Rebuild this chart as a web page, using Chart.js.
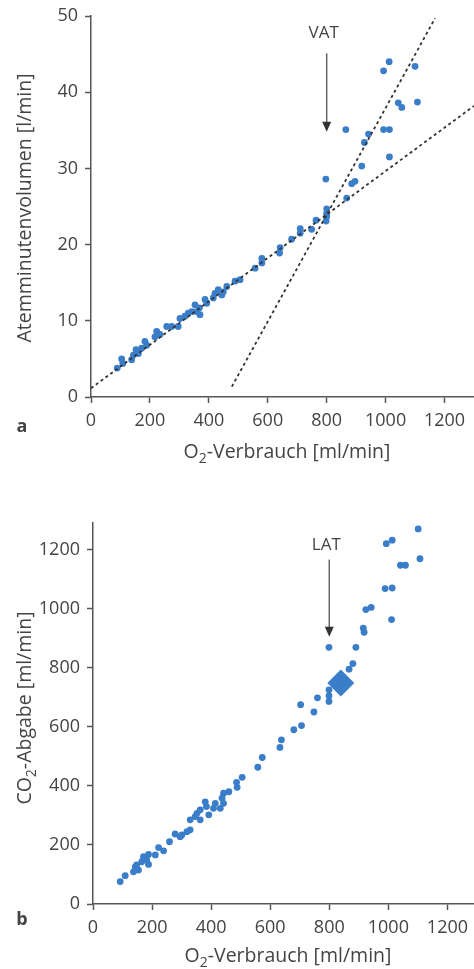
<!DOCTYPE html>
<html>
<head>
<meta charset="utf-8">
<script src="https://cdn.jsdelivr.net/npm/chart.js@4.4.1/dist/chart.umd.min.js"></script>
<style>
  html, body { margin: 0; padding: 0; background: #fff; }
  .box { position: absolute; left: 0; width: 474px; }
  #boxA { top: 0; height: 470px; }
  #boxB { top: 470px; height: 499px; }
</style>
</head>
<body>
<div class="box" id="boxA"><canvas id="chartA"></canvas></div>
<div class="box" id="boxB"><canvas id="chartB"></canvas></div>
<script>
// --- panel a: O2-Verbrauch vs. Atemminutenvolumen ---
const vo2A = [89,104,108,138,144,153,161,172,183,189,217,223,234,257,274,296,302,319,330,342,
  353,359,370,368,387,393,415,421,432,444,449,461,489,506,557,580,580,640,642,681,
  710,710,749,764,798,800,800,800,797,868,885,896,865,928,942,919,993,1012,1043,
  1055,993,1013,1013,1100,1108];
const veA = [3.8,5.0,4.4,4.9,5.5,6.2,5.7,6.4,7.3,6.8,7.9,8.6,8.2,9.25,9.25,9.25,10.3,10.6,11.0,11.2,
  12.1,11.2,10.8,11.7,12.8,12.3,13.0,13.6,14.1,13.4,13.8,14.5,15.2,15.4,16.9,17.6,18.2,18.9,19.6,20.7,
  21.5,22.1,22.0,23.2,23.1,23.7,24.1,24.7,28.6,26.1,28.0,28.3,35.1,33.4,34.5,30.3,42.8,44.0,38.6,
  38.0,35.1,35.1,31.5,43.4,38.7];
const fitLowX = [0, 1300];
const fitLowY = [1.15, 38.2];
const fitHighX = [478, 1168];
const fitHighY = [1.36, 49.7];
const vatArrow = { x: 800, from: 45.1, to: 34.8, label: 'VAT', labelY: 47.8 };

// --- panel b: O2-Verbrauch vs. CO2-Abgabe ---
const vo2B = [1101,1107,993,1013,1041,1058,989,1013,1011,924,942,915,918,890,799,880,867,799,799,799,
  760,748,703,706,680,638,633,573,558,505,486,488,460,442,437,442,431,414,408,380,384,392,363,352,363,
  346,329,329,318,301,295,278,259,239,222,211,188,188,182,171,165,154,148,137,143,109,92];
const vco2B = [1270,1169,1220,1232,1147,1147,1068,1070,963,997,1004,934,920,869,869,814,795,725,705,686,
  698,650,675,604,590,556,530,496,463,429,412,395,380,375,358,341,324,341,324,346,330,302,319,307,285,
  296,285,251,245,234,228,237,211,180,191,166,168,134,149,160,143,115,132,109,126,96,76];
const latPoint = { x: 839, y: 748 };
const latArrow = { x: 800, from: 1166, to: 905, label: 'LAT', labelY: 1215 };

const xTicksStep = 200;
const BLUE = 'rgb(58,125,200)';
const INK = '#444';
const AXIS = '#555';
const FONT = '"Open Sans", "Noto Sans", sans-serif';
const TITLE_PX = 19.5;

function pts(xs, ys) { return xs.map((x, i) => ({ x: x, y: ys[i] })); }

function axis(max, step, width, height) {
  return {
    type: 'linear', min: 0, max: max,
    border: { display: true, color: AXIS, width: 1.5 },
    grid: { drawOnChartArea: false, drawTicks: true, tickLength: 6, color: AXIS, tickWidth: 1.5 },
    ticks: { stepSize: step, color: INK, padding: 7, font: { family: FONT, size: 18 },
      callback: v => String(v) },
    afterBuildTicks: s => {
      const t = [];
      for (let v = 0; v <= max; v += step) t.push({ value: v });
      s.ticks = t;
    },
    afterFit: s => {
      if (width) s.width = width;
      if (height) s.height = height;
      s.paddingLeft = s.paddingRight = s.paddingTop = s.paddingBottom = 0;
    }
  };
}

// axis titles, panel letter and arrow annotation
function notes(cfg) {
  return {
    id: 'notes',
    afterDraw(chart) {
      const c = chart.ctx, xs = chart.scales.x, ys = chart.scales.y;
      const big = TITLE_PX + 'px ' + FONT, small = Math.round(TITLE_PX * 0.7) + 'px ' + FONT;
      c.save();
      c.fillStyle = INK;
      const drawSub = (parts, cx, cy) => {
        c.font = big;
        const w1 = c.measureText(parts[0]).width;
        const w3 = c.measureText(parts[2]).width;
        c.font = small;
        const w2 = c.measureText(parts[1]).width;
        let x = cx - (w1 + w2 + w3) / 2;
        c.textAlign = 'left'; c.textBaseline = 'alphabetic';
        c.font = big; c.fillText(parts[0], x, cy); x += w1;
        c.font = small; c.fillText(parts[1], x, cy + 5); x += w2;
        c.font = big; c.fillText(parts[2], x, cy);
      };
      drawSub(['O', '2', '-Verbrauch [ml/min]'], cfg.xTitle[0], cfg.xTitle[1]);
      c.save();
      c.translate(cfg.yTitle[0], cfg.yTitle[1]);
      c.rotate(-Math.PI / 2);
      drawSub(cfg.yText, 0, 0);
      c.restore();
      c.font = 'bold 18px ' + FONT;
      c.textAlign = 'center'; c.textBaseline = 'middle';
      c.fillText(cfg.letter, cfg.letterPos[0], cfg.letterPos[1]);
      // arrow
      const a = cfg.arrow;
      const ax = xs.getPixelForValue(a.x);
      const y0 = ys.getPixelForValue(a.from), y1 = ys.getPixelForValue(a.to);
      c.strokeStyle = '#666'; c.lineWidth = 1.5;
      c.beginPath(); c.moveTo(ax, y0); c.lineTo(ax, y1 - 8); c.stroke();
      c.fillStyle = '#333';
      c.beginPath(); c.moveTo(ax - 4.5, y1 - 10); c.lineTo(ax + 4.5, y1 - 10); c.lineTo(ax, y1); c.closePath(); c.fill();
      c.fillStyle = INK;
      c.font = '17px ' + FONT;
      c.fillText(a.label, ax - 3, ys.getPixelForValue(a.labelY));
      c.restore();
    }
  };
}

const dots = { pointRadius: 3.4, pointHoverRadius: 3.4, backgroundColor: BLUE, borderWidth: 0 };
const dashed = { showLine: true, borderColor: '#333', borderWidth: 1.8, borderDash: [3, 3], pointRadius: 0, fill: false };

new Chart(document.getElementById('chartA'), {
  type: 'scatter',
  data: {
    datasets: [
      Object.assign({ data: pts(fitLowX, fitLowY) }, dashed),
      Object.assign({ data: pts(fitHighX, fitHighY) }, dashed),
      Object.assign({ data: pts(vo2A, veA) }, dots)
    ]
  },
  options: {
    responsive: true, maintainAspectRatio: false, animation: false,
    layout: { autoPadding: false, padding: { top: 16, right: 0, left: 0, bottom: 0 } },
    plugins: { legend: { display: false }, tooltip: { enabled: false } },
    scales: { x: axis(1300, xTicksStep, 0, 73), y: axis(50, 10, 91, 0) }
  },
  plugins: [notes({ xTitle: [287, 458], yTitle: [31, 208], yText: ['Atemminutenvolumen [l/min]', '', ''],
    letter: 'a', letterPos: [22, 427], arrow: vatArrow })]
});

new Chart(document.getElementById('chartB'), {
  type: 'scatter',
  data: {
    datasets: [
      Object.assign({ data: [latPoint], pointStyle: 'rectRot' }, dots, { pointRadius: 13.5, pointHoverRadius: 13.5 }),
      Object.assign({ data: pts(vo2B, vco2B) }, dots)
    ]
  },
  options: {
    responsive: true, maintainAspectRatio: false, animation: false,
    layout: { autoPadding: false, padding: { top: 53, right: 0, left: 0, bottom: 0 } },
    plugins: { legend: { display: false }, tooltip: { enabled: false } },
    scales: { x: axis(1290, xTicksStep, 0, 65), y: axis(1290, 200, 93, 0) }
  },
  plugins: [notes({ xTitle: [288, 492], yTitle: [31, 238], yText: ['CO', '2', '-Abgabe [ml/min]'],
    letter: 'b', letterPos: [22, 450], arrow: latArrow })]
});
</script>
</body>
</html>
